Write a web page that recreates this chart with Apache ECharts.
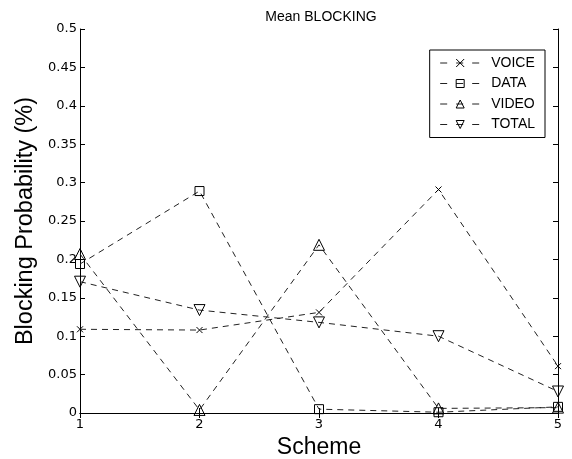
<!DOCTYPE html>
<html>
<head>
<meta charset="utf-8">
<script src="https://cdn.jsdelivr.net/npm/echarts@6/dist/echarts.min.js"></script>
<style>
    html, body { margin: 0; padding: 0; background: #fff; }
    #main { width: 572px; height: 459px; }
</style>
</head>
<body>
<div id="main"></div>
<script>
var schemes = [1, 2, 3, 4, 5];
var voice = [0.109, 0.108, 0.131, 0.291, 0.061];
var data = [0.194, 0.289, 0.005, 0.001, 0.008];
var video = [0.207, 0.004, 0.219, 0.006, 0.007];
var total = [0.171, 0.134, 0.118, 0.100, 0.028];
var yTicks = [0, 0.05, 0.1, 0.15, 0.2, 0.25, 0.3, 0.35, 0.4, 0.45, 0.5];

var font = 'Liberation Sans, Arial, sans-serif';
var tickFont = 'DejaVu Sans, sans-serif';
var ink = '#000';

function pairs(vals) {
    var out = [];
    for (var i = 0; i < schemes.length; i++) {
        out.push([schemes[i], vals[i]]);
    }
    return out;
}

function mkSeries(name, vals, symbol, size) {
    return {
        name: name,
        type: 'line',
        data: pairs(vals),
        symbol: symbol,
        symbolSize: size,
        showAllSymbol: true,
        lineStyle: { color: '#222', width: 1, type: [6, 5] },
        itemStyle: { color: 'rgba(0,0,0,0)', borderColor: ink, borderWidth: 1 },
        emphasis: { disabled: true },
        z: 3
    };
}

var crossPath = 'path://M0,0 L10,10 M10,0 L0,10';
var downTri = 'path://M0,0 L10,0 L5,9 Z';

var option = {
    animation: false,
    backgroundColor: '#fff',
    title: {
        text: 'Mean BLOCKING',
        left: 316,
        textAlign: 'center',
        top: 5,
        textStyle: { fontFamily: font, fontSize: 14, fontWeight: 'normal', color: ink }
    },
    legend: {
        right: 27,
        top: 50,
        orient: 'vertical',
        itemWidth: 40,
        itemHeight: 10,
        itemGap: 6.5,
        padding: [6, 10, 6, 10],
        borderColor: ink,
        borderWidth: 1,
        backgroundColor: '#fff',
        lineStyle: { width: 1, type: [7, 9], color: '#222' },
        itemStyle: { borderWidth: 1 },
        textStyle: { fontFamily: font, fontSize: 14, color: ink, padding: [0, 0, 0, 6] },
        data: ['VOICE', 'DATA', 'VIDEO', 'TOTAL']
    },
    grid: { left: 80, right: 14, top: 29, bottom: 46, show: false, outerBoundsMode: 'none' },
    xAxis: [{
        type: 'value',
        min: 1, max: 5, interval: 1,
        name: 'Scheme',
        nameLocation: 'middle',
        nameGap: 21,
        nameTextStyle: { fontFamily: font, fontSize: 23, color: ink, verticalAlign: 'top' },
        axisLine: { lineStyle: { color: ink, width: 1 } },
        axisTick: { inside: true, length: 5, lineStyle: { color: ink } },
        axisLabel: { fontFamily: tickFont, fontSize: 13, color: ink, margin: 5 },
        splitLine: { show: false }
    }, {
        type: 'value',
        position: 'top',
        min: 1, max: 5, interval: 1,
        axisLine: { lineStyle: { color: ink, width: 1 } },
        axisTick: { inside: true, length: 5, lineStyle: { color: ink } },
        axisLabel: { show: false },
        splitLine: { show: false }
    }],
    yAxis: [{
        type: 'value',
        min: 0, max: 0.5, interval: 0.05,
        name: 'Blocking Probability (%)',
        nameLocation: 'middle',
        nameGap: 39,
        nameTextStyle: { fontFamily: font, fontSize: 23.5, color: ink },
        axisLine: { show: true, lineStyle: { color: ink, width: 1 } },
        axisTick: { show: true, inside: true, length: 5, lineStyle: { color: ink } },
        axisLabel: {
            fontFamily: tickFont, fontSize: 13, color: ink, margin: 3,
            formatter: function (v) {
                var hit = yTicks.filter(function (t) { return Math.abs(t - v) < 1e-9; });
                return hit.length ? String(hit[0]) : '';
            }
        },
        splitLine: { show: false }
    }, {
        type: 'value',
        position: 'right',
        min: 0, max: 0.5, interval: 0.05,
        axisLine: { show: true, lineStyle: { color: ink, width: 1 } },
        axisTick: { show: true, inside: true, length: 5, lineStyle: { color: ink } },
        axisLabel: { show: false },
        splitLine: { show: false }
    }],
    series: [
        mkSeries('VOICE', voice, crossPath, 6),
        mkSeries('DATA', data, 'rect', 9),
        mkSeries('VIDEO', video, 'triangle', 11),
        mkSeries('TOTAL', total, downTri, 11)
    ]
};

var myChart = echarts.init(document.getElementById('main'));
myChart.setOption(option);
</script>
</body>
</html>
